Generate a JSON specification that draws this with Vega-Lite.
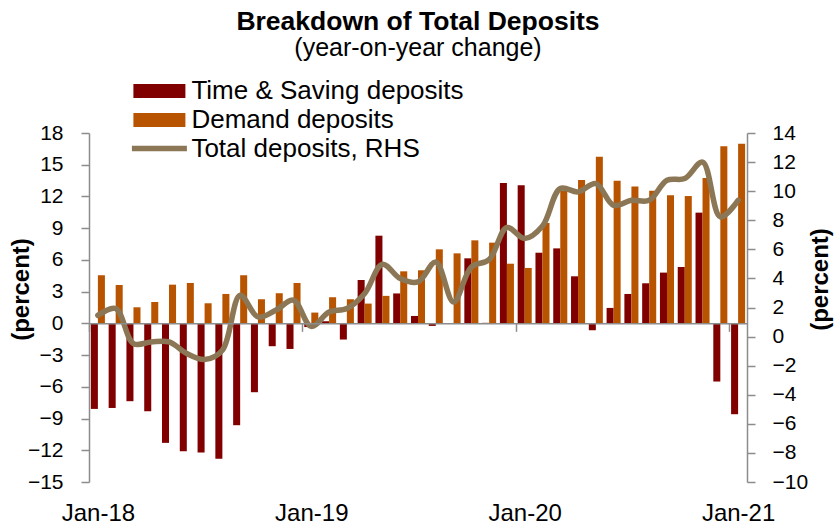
{
  "$schema": "https://vega.github.io/schema/vega-lite/v6.json",
  "width": 658,
  "height": 349,
  "autosize": {"type": "none"},
  "padding": {"left": 89, "top": 133, "right": 90, "bottom": 44},
  "background": "white",
  "title": {
    "text": "Breakdown of Total Deposits",
    "subtitle": "(year-on-year change)",
    "anchor": "middle",
    "font": "Liberation Sans",
    "fontSize": 26.5,
    "fontWeight": "bold",
    "color": "black",
    "subtitleFont": "Liberation Sans",
    "subtitleFontSize": 25,
    "subtitleColor": "black",
    "subtitlePadding": 1,
    "offset": 17
  },
  "data": {
    "values": [
      {"m": "2018-01", "Time & Saving deposits": -8.09, "Demand deposits": 4.55, "Total deposits, RHS": 1.46},
      {"m": "2018-02", "Time & Saving deposits": -8.0, "Demand deposits": 3.63, "Total deposits, RHS": 1.93},
      {"m": "2018-03", "Time & Saving deposits": -7.36, "Demand deposits": 1.52, "Total deposits, RHS": -0.48},
      {"m": "2018-04", "Time & Saving deposits": -8.31, "Demand deposits": 2.02, "Total deposits, RHS": -0.37},
      {"m": "2018-05", "Time & Saving deposits": -11.3, "Demand deposits": 3.66, "Total deposits, RHS": -0.37},
      {"m": "2018-06", "Time & Saving deposits": -12.1, "Demand deposits": 3.82, "Total deposits, RHS": -1.17},
      {"m": "2018-07", "Time & Saving deposits": -12.2, "Demand deposits": 1.9, "Total deposits, RHS": -1.58},
      {"m": "2018-08", "Time & Saving deposits": -12.8, "Demand deposits": 2.78, "Total deposits, RHS": -0.94},
      {"m": "2018-09", "Time & Saving deposits": -9.63, "Demand deposits": 4.55, "Total deposits, RHS": 2.84},
      {"m": "2018-10", "Time & Saving deposits": -6.51, "Demand deposits": 2.28, "Total deposits, RHS": 1.35},
      {"m": "2018-11", "Time & Saving deposits": -2.16, "Demand deposits": 2.85, "Total deposits, RHS": 1.81},
      {"m": "2018-12", "Time & Saving deposits": -2.42, "Demand deposits": 3.82, "Total deposits, RHS": 2.5},
      {"m": "2019-01", "Time & Saving deposits": -0.35, "Demand deposits": 1.02, "Total deposits, RHS": 0.7},
      {"m": "2019-02", "Time & Saving deposits": 0.2, "Demand deposits": 2.47, "Total deposits, RHS": 1.69},
      {"m": "2019-03", "Time & Saving deposits": -1.53, "Demand deposits": 2.28, "Total deposits, RHS": 1.93},
      {"m": "2019-04", "Time & Saving deposits": 4.1, "Demand deposits": 1.87, "Total deposits, RHS": 2.96},
      {"m": "2019-05", "Time & Saving deposits": 8.29, "Demand deposits": 2.6, "Total deposits, RHS": 4.97},
      {"m": "2019-06", "Time & Saving deposits": 2.83, "Demand deposits": 4.92, "Total deposits, RHS": 3.99},
      {"m": "2019-07", "Time & Saving deposits": 0.7, "Demand deposits": 5.02, "Total deposits, RHS": 3.76},
      {"m": "2019-08", "Time & Saving deposits": -0.24, "Demand deposits": 7.0, "Total deposits, RHS": 5.13},
      {"m": "2019-09", "Time & Saving deposits": 0.0, "Demand deposits": 6.62, "Total deposits, RHS": 2.38},
      {"m": "2019-10", "Time & Saving deposits": 6.15, "Demand deposits": 7.85, "Total deposits, RHS": 4.79},
      {"m": "2019-11", "Time & Saving deposits": 0.05, "Demand deposits": 7.63, "Total deposits, RHS": 5.29},
      {"m": "2019-12", "Time & Saving deposits": 13.27, "Demand deposits": 5.64, "Total deposits, RHS": 7.5},
      {"m": "2020-01", "Time & Saving deposits": 13.05, "Demand deposits": 5.24, "Total deposits, RHS": 6.74},
      {"m": "2020-02", "Time & Saving deposits": 6.68, "Demand deposits": 9.49, "Total deposits, RHS": 7.6},
      {"m": "2020-03", "Time & Saving deposits": 7.09, "Demand deposits": 12.55, "Total deposits, RHS": 10.18},
      {"m": "2020-04", "Time & Saving deposits": 4.45, "Demand deposits": 13.56, "Total deposits, RHS": 9.95},
      {"m": "2020-05", "Time & Saving deposits": -0.65, "Demand deposits": 15.76, "Total deposits, RHS": 10.52},
      {"m": "2020-06", "Time & Saving deposits": 1.46, "Demand deposits": 13.49, "Total deposits, RHS": 9.03},
      {"m": "2020-07", "Time & Saving deposits": 2.78, "Demand deposits": 12.93, "Total deposits, RHS": 9.37},
      {"m": "2020-08", "Time & Saving deposits": 3.79, "Demand deposits": 12.55, "Total deposits, RHS": 9.37},
      {"m": "2020-09", "Time & Saving deposits": 4.8, "Demand deposits": 12.11, "Total deposits, RHS": 10.75},
      {"m": "2020-10", "Time & Saving deposits": 5.33, "Demand deposits": 12.04, "Total deposits, RHS": 10.87},
      {"m": "2020-11", "Time & Saving deposits": 10.47, "Demand deposits": 13.74, "Total deposits, RHS": 12.0},
      {"m": "2020-12", "Time & Saving deposits": -5.5, "Demand deposits": 16.74, "Total deposits, RHS": 8.23},
      {"m": "2021-01", "Time & Saving deposits": -8.59, "Demand deposits": 16.99, "Total deposits, RHS": 9.37}
    ]
  },
  "layer": [
    {
      "transform": [{"fold": ["Time & Saving deposits", "Demand deposits"], "as": ["series", "value"]}],
      "mark": {"type": "bar"},
      "encoding": {
        "x": {
          "field": "m",
          "type": "ordinal",
          "scale": {"paddingInner": 0.21, "paddingOuter": 0.105},
          "axis": {
            "title": null,
            "values": ["2018-01", "2019-01", "2020-01", "2021-01"],
            "labelExpr": "'Jan-' + slice(datum.value, 2, 4)",
            "labelAngle": 0,
            "labelFontSize": 24,
            "offset": -158.7,
            "tickSize": 8,
            "tickOffset": -8.89,
            "labelOffset": 8.89,
            "labelPadding": 170,
            "zindex": 1
          }
        },
        "xOffset": {
          "field": "series",
          "type": "nominal",
          "scale": {"domain": ["Time & Saving deposits", "Demand deposits"], "paddingInner": 0}
        },
        "y": {
          "field": "value",
          "type": "quantitative",
          "scale": {"domain": [-15, 18], "nice": false, "zero": false},
          "axis": {
            "orient": "left",
            "values": [-15, -12, -9, -6, -3, 0, 3, 6, 9, 12, 15, 18],
            "title": "(percent)",
            "titleAngle": 270,
            "titleX": -68,
            "titleY": 156,
            "titleAlign": "center",
            "titleBaseline": "middle",
            "labelPadding": 18
          }
        },
        "fill": {
          "field": "series",
          "type": "nominal",
          "scale": {"domain": ["Time & Saving deposits", "Demand deposits"], "range": ["#800000", "#B85400"]},
          "legend": {
            "orient": "none",
            "legendX": 57.4,
            "legendY": -55,
            "title": null,
            "direction": "vertical",
            "symbolType": "M-2.6,-0.7H2.6V0.7H-2.6Z",
            "symbolSize": 400,
            "symbolStrokeWidth": 0,
            "labelOffset": 19,
            "rowPadding": 3
          }
        }
      }
    },
    {
      "transform": [{"fold": ["Total deposits, RHS"], "as": ["series", "value"]}],
      "mark": {"type": "line", "interpolate": "catmull-rom", "strokeWidth": 5.5, "strokeCap": "round", "strokeJoin": "round"},
      "encoding": {
        "x": {"field": "m", "type": "ordinal"},
        "y": {
          "field": "value",
          "type": "quantitative",
          "scale": {"domain": [-10, 14], "nice": false, "zero": false},
          "axis": {
            "orient": "right",
            "values": [-10, -8, -6, -4, -2, 0, 2, 4, 6, 8, 10, 12, 14],
            "title": "(percent)",
            "titleAngle": 270,
            "titleX": 73,
            "titleY": 146,
            "titleAlign": "center",
            "titleBaseline": "middle",
            "labelPadding": 17
          }
        },
        "stroke": {
          "field": "series",
          "type": "nominal",
          "scale": {"domain": ["Total deposits, RHS"], "range": ["#8B7755"]},
          "legend": {
            "orient": "none",
            "legendX": 57.4,
            "legendY": 2.5,
            "title": null,
            "symbolType": "M-2.75,0H2.75",
            "symbolSize": 400,
            "symbolStrokeWidth": 5.5,
            "labelOffset": 19
          }
        }
      }
    }
  ],
  "resolve": {"scale": {"y": "independent"}},
  "config": {
    "view": {"stroke": null},
    "axis": {
      "domainColor": "#8c8c8c",
      "domainWidth": 1.5,
      "tickColor": "#8c8c8c",
      "tickWidth": 1.5,
      "tickSize": 8,
      "grid": false,
      "labelFont": "Liberation Sans",
      "labelFontSize": 21,
      "labelColor": "black",
      "labelOverlap": false,
      "labelFlush": false,
      "titleFont": "Liberation Sans",
      "titleFontSize": 24,
      "titleFontWeight": "bold",
      "titleColor": "black"
    },
    "legend": {
      "labelFont": "Liberation Sans",
      "labelFontSize": 26,
      "labelColor": "black",
      "padding": 0,
      "labelLimit": 400
    }
  }
}
